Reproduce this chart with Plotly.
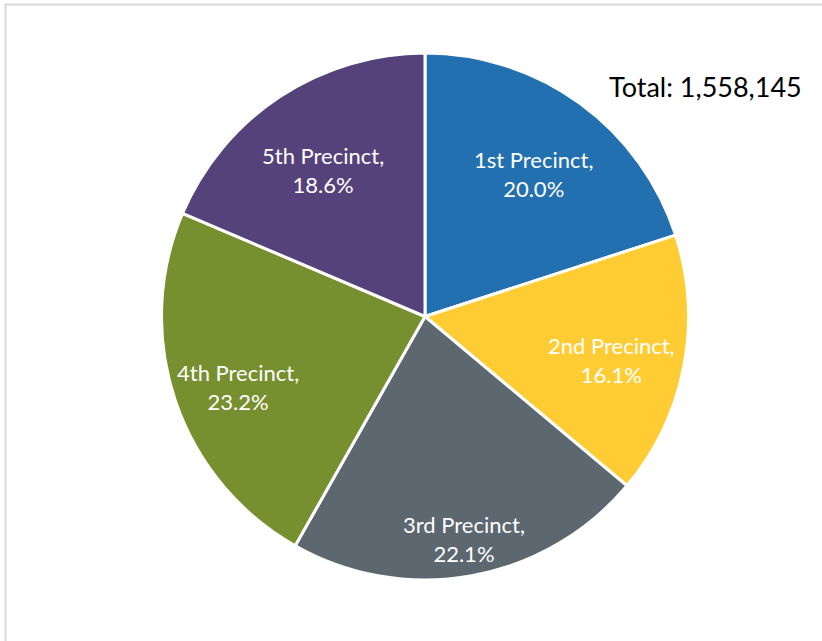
import math
import plotly.graph_objects as go

labels = ["1st Precinct", "2nd Precinct", "3rd Precinct", "4th Precinct", "5th Precinct"]
shares = [20.0, 16.1, 22.1, 23.2, 18.6]
colors = ["#2270B0", "#FFCD33", "#5C6770", "#77902F", "#56427A"]
total_text = "Total: 1,558,145"

W, H = 822, 641
cx, cy, r = 425, 316.5, 263.5
# radial placement of each data label (fraction of radius), as in the reference
label_radius = [0.70, 0.72, 0.83, 0.75, 0.70]

fig = go.Figure(go.Pie(
    labels=labels,
    values=shares,
    textinfo="none",
    sort=False,
    direction="clockwise",
    rotation=0,
    marker=dict(colors=colors, line=dict(color="white", width=3)),
    hoverinfo="label+percent",
    domain=dict(x=[(cx - r) / W, (cx + r) / W], y=[(H - cy - r) / H, (H - cy + r) / H]),
    showlegend=False,
))

total = sum(shares)
cum = 0.0
for lab, v, f in zip(labels, shares, label_radius):
    mid = (cum + v / 2) / total * 2 * math.pi
    cum += v
    px = cx + f * r * math.sin(mid)
    py = cy - f * r * math.cos(mid)
    fig.add_annotation(text=f"{lab},<br>{v:.1f}%", xref="paper", yref="paper",
                       x=px / W, y=1 - py / H, xanchor="center", yanchor="middle",
                       yshift=-7, showarrow=False, align="center",
                       font=dict(family="Lato", size=22, color="white"))

fig.add_shape(type="rect", xref="paper", yref="paper",
              x0=5.5 / W, x1=1.05, y0=-0.05, y1=1 - 4.5 / H,
              line=dict(color="#D9D9D9", width=2), fillcolor="rgba(0,0,0,0)")

fig.add_annotation(text=total_text, xref="paper", yref="paper",
                   x=804 / W, y=1 - 86 / H, xanchor="right", yanchor="middle",
                   showarrow=False, font=dict(family="Lato", size=27, color="black"))

fig.update_layout(width=W, height=H, margin=dict(l=0, r=0, t=0, b=0),
                  paper_bgcolor="white", plot_bgcolor="white")

fig.write_html("out.html", config={"displayModeBar": False},
               post_script="document.body.style.margin='0px';")
